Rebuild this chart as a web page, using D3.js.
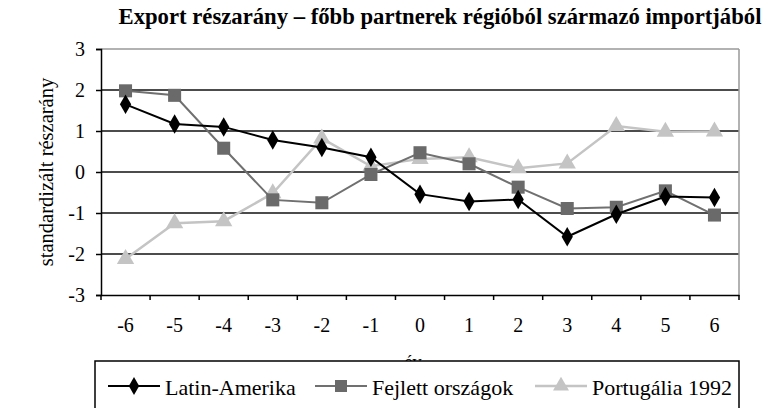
<!DOCTYPE html>
<html><head><meta charset="utf-8">
<script src="https://cdn.jsdelivr.net/npm/d3@7"></script>
<style>body{margin:0;background:#fff}svg{display:block}</style>
</head><body>
<svg id="c" width="766" height="408"></svg>
<script>
const years = ["-6","-5","-4","-3","-2","-1","0","1","2","3","4","5","6"];
const latinAmerika = [1.65,1.17,1.10,0.78,0.60,0.36,-0.54,-0.72,-0.67,-1.58,-1.03,-0.60,-0.62];
const fejlettOrszagok = [1.98,1.87,0.58,-0.68,-0.75,-0.06,0.47,0.20,-0.37,-0.89,-0.86,-0.46,-1.05];
const portugalia1992 = [-2.12,-1.25,-1.20,-0.52,0.82,0.14,0.32,0.36,0.09,0.21,1.12,0.98,0.99];
const yTicks = [-3,-2,-1,0,1,2,3];
const seriesNames = ["Latin-Amerika","Fejlett országok","Portugália 1992"];

const svg = d3.select("#c");
const font = "'Liberation Serif','Times New Roman',serif";
const L=101, R=739, T=49, B=295;
const x = d3.scaleBand().domain(years).range([L,R]);
const y = d3.scaleLinear().domain([-3,3]).range([B,T]);

svg.append("text").attr("x",440).attr("y",24).attr("text-anchor","middle")
  .attr("font-family",font).attr("font-weight","bold").attr("font-size",22.7)
  .text("Export részarány – főbb partnerek régióból származó importjából");

// gridlines
svg.append("g").selectAll("line").data(yTicks.filter(d=>d>-3&&d<3)).join("line")
  .attr("x1",L).attr("x2",R).attr("y1",d=>y(d)).attr("y2",d=>y(d))
  .attr("stroke","#111").attr("stroke-width",1.5);
// top & right border
svg.append("line").attr("x1",L).attr("x2",R).attr("y1",y(3)).attr("y2",y(3)).attr("stroke","#999").attr("stroke-width",1.5);
svg.append("line").attr("x1",R).attr("x2",R).attr("y1",T).attr("y2",B).attr("stroke","#999").attr("stroke-width",1.5);

// y axis
const ya = svg.append("g").attr("transform",`translate(${L},0)`)
  .call(d3.axisLeft(y).tickValues(yTicks).tickSize(5).tickPadding(11).tickFormat(d=>String(d)));
ya.select(".domain").attr("stroke","#000").attr("stroke-width",1.5);
ya.selectAll(".tick line").attr("stroke","#000").attr("stroke-width",1.5);
ya.selectAll("text").attr("font-family",font).attr("font-size",20).attr("fill","#000");

// x axis
const xa = svg.append("g").attr("transform",`translate(0,${B})`)
  .call(d3.axisBottom(x).tickSize(0));
xa.select(".domain").attr("stroke","#000").attr("stroke-width",1.5);
xa.selectAll("text").attr("font-family",font).attr("font-size",20).attr("fill","#000")
  .attr("dy",null).attr("y",37);
const bounds = years.map((d)=>x(d)).concat([R]);
svg.append("g").selectAll("line").data(bounds).join("line")
  .attr("x1",d=>d).attr("x2",d=>d).attr("y1",B).attr("y2",B+5)
  .attr("stroke","#000").attr("stroke-width",1.5);

svg.append("text").attr("transform","translate(53,172) rotate(-90)").attr("text-anchor","middle")
  .attr("font-family",font).attr("font-size",20.5).text("standardizált részarány");
svg.append("text").attr("x",413).attr("y",368).attr("text-anchor","middle")
  .attr("font-family",font).attr("font-size",18).text("év");

const cx = d => x(d)+x.bandwidth()/2;
const series = [
  {name:seriesNames[0], vals:latinAmerika, color:"#000", fill:"#000", sym:d3.symbolDiamond, size:110, w:2},
  {name:seriesNames[1], vals:fejlettOrszagok, color:"#707070", fill:"#6a6a6a", sym:d3.symbolSquare, size:170, w:2},
  {name:seriesNames[2], vals:portugalia1992, color:"#c4c4c4", fill:"#c4c4c4", sym:d3.symbolTriangle, size:130, w:2.5}
];
const line = d3.line().x((v,i)=>cx(years[i])).y(v=>y(v));
series.slice().reverse().forEach(s=>{
  const g = svg.append("g");
  g.append("path").attr("d",line(s.vals)).attr("fill","none").attr("stroke",s.color).attr("stroke-width",s.w);
  g.selectAll("path.m").data(s.vals).join("path").attr("class","m")
    .attr("transform",(v,i)=>`translate(${cx(years[i])},${y(v)})`)
    .attr("d",d3.symbol().type(s.sym).size(s.size)).attr("fill",s.fill);
});

// legend
const lg = svg.append("g");
lg.append("rect").attr("x",95).attr("y",361).attr("width",644).attr("height",60)
  .attr("fill","#fff").attr("stroke","#000").attr("stroke-width",1.5);
const lx = [108,315,535];
series.forEach((s,i)=>{
  lg.append("line").attr("x1",lx[i]).attr("x2",lx[i]+52).attr("y1",386).attr("y2",386)
    .attr("stroke",s.color).attr("stroke-width",s.w);
  lg.append("path").attr("transform",`translate(${lx[i]+26},386)`)
    .attr("d",d3.symbol().type(s.sym).size(s.size*0.85)).attr("fill",s.fill);
  lg.append("text").attr("x",lx[i]+57).attr("y",395).attr("font-family",font).attr("font-size",22)
    .text(s.name);
});
</script>
</body></html>
